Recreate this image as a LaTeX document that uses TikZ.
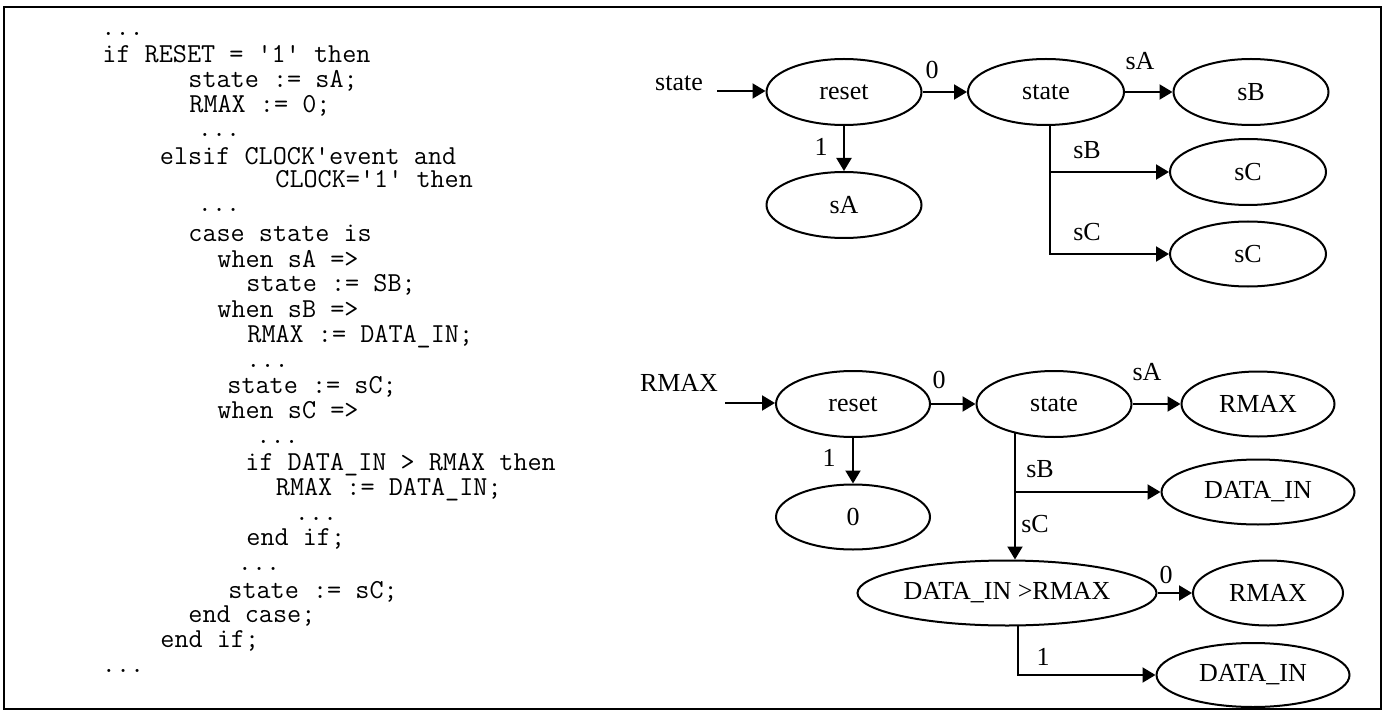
\documentclass[tikz,border=0pt]{standalone}
\usepackage{fontspec}
\setmainfont{Liberation Serif}
\usetikzlibrary{shapes.geometric,arrows.meta}
\newcommand{\q}{\textquotesingle}
\tikzset{
  st/.style={draw, ellipse, line width=1pt, inner sep=0pt, font=\fontsize{13}{15}\selectfont},
  lbl/.style={inner sep=0pt, font=\fontsize{13}{15}\selectfont},
  arr/.style={line width=1pt, -{Triangle[length=6.5pt,width=7.5pt]}},
  cd/.style={anchor=base west, inner sep=0pt, font=\ttfamily\fontsize{13.7}{15}\selectfont}
}
\begin{document}
\begin{tikzpicture}[x=0.5pt,y=-0.5pt]
\useasboundingbox (0,0) rectangle (1391,711);
\draw[line width=1pt] (4,7) rectangle (1381,709);
% code
\node[cd] (c1) at (101,36) {...};
\node[cd] (c2) at (102,63) {if RESET = \q 1\q\ then};
\node[cd] (c3) at (188,88) {state := sA;};
\node[cd] (c4) at (189,113) {RMAX := 0;};
\node[cd] (c5) at (197.5,137) {...};
\node[cd] (c6) at (159.5,165) {elsif CLOCK\q event and};
\node[cd] (c7) at (275,188) {CLOCK=\q 1\q\ then};
\node[cd] (c8) at (197.5,212) {...};
\node[cd] (c9) at (188,242) {case state is};
\node[cd] (c10) at (217,267) {when sA =>};
\node[cd] (c11) at (246,292) {state := SB;};
\node[cd] (c12) at (217,317) {when sB =>};
\node[cd] (c13) at (247,342) {RMAX := DATA\_IN;};
\node[cd] (c14) at (246,367) {...};
\node[cd] (c15) at (227,393) {state := sC;};
\node[cd] (c16) at (217,418) {when sC =>};
\node[cd] (c17) at (256,443) {...};
\node[cd] (c18) at (245,470) {if DATA\_IN > RMAX then};
\node[cd] (c19) at (275.5,495) {RMAX := DATA\_IN;};
\node[cd] (c20) at (294.5,520) {...};
\node[cd] (c21) at (246,545) {end if;};
\node[cd] (c22) at (237.5,570) {...};
\node[cd] (c23) at (228,598) {state := sC;};
\node[cd] (c24) at (188,622) {end case;};
\node[cd] (c25) at (160,647) {end if;};
\node[cd] (c26) at (101.5,672) {...};
% top diagram
\node[lbl] (lstate) at (679,83) {state};
\coordinate (in1) at (717,91);
\node[st, minimum width=77.5pt, minimum height=33pt] (reset1) at (844,92) {reset};
\node[st, minimum width=77.5pt, minimum height=33pt] (sA1) at (844,205) {sA};
\node[st, minimum width=78pt, minimum height=33pt] (state1) at (1046,92) {state};
\node[st, minimum width=77.5pt, minimum height=33pt] (sB1) at (1251,92) {sB};
\node[st, minimum width=78pt, minimum height=33pt] (sC1) at (1248,172) {sC};
\node[st, minimum width=78pt, minimum height=32.5pt] (sC2) at (1248,254) {sC};
\draw[arr] (in1) -- (in1 -| reset1.west);
\draw[arr] (reset1.east) -- (state1.west);
\draw[arr] (reset1.south) -- (sA1.north);
\draw[arr] (state1.east) -- (sB1.west);
\draw[arr] ([xshift=2pt]state1.south) |- (sC1.west);
\draw[arr] ([xshift=2pt]state1.south) |- (sC2.west);
\node[lbl] (l0a) at (932,70) {0};
\node[lbl] (l1a) at (821,147) {1};
\node[lbl] (lsAa) at (1140,61) {sA};
\node[lbl] (lsBa) at (1087,150) {sB};
\node[lbl] (lsCa) at (1087,232) {sC};
% bottom diagram
\node[lbl] (lrmax) at (679,383) {RMAX};
\coordinate (in2) at (725,403);
\node[st, minimum width=77pt, minimum height=33pt] (reset2) at (853,404) {reset};
\node[st, minimum width=77pt, minimum height=32.5pt] (zero) at (853,517) {0};
\node[st, minimum width=77.5pt, minimum height=33pt] (state2) at (1054,404) {state};
\node[st, minimum width=76.5pt, minimum height=32.5pt] (rmaxa) at (1258,404) {RMAX};
\node[st, minimum width=96.5pt, minimum height=32.5pt] (dataa) at (1258,492) {DATA\_IN};
\node[st, minimum width=149.5pt, minimum height=32.5pt] (cmp) at (1007,593) {DATA\_IN >RMAX};
\node[st, minimum width=75pt, minimum height=32.5pt] (rmaxb) at (1268,593) {RMAX};
\node[st, minimum width=96.5pt, minimum height=32pt] (datab) at (1253,675) {DATA\_IN};
\coordinate (v2) at (1015,432);
\coordinate (v3) at (1018,626);
\draw[arr] (in2) -- (in2 -| reset2.west);
\draw[arr] (reset2.east) -- (state2.west);
\draw[arr] (reset2.south) -- (zero.north);
\draw[arr] (state2.east) -- (rmaxa.west);
\draw[arr] (v2) |- (dataa.west);
\draw[arr] (v2) -- (v2 |- cmp.north);
\draw[arr] (cmp.east) -- (rmaxb.west);
\draw[arr] (v3) |- (datab.west);
\node[lbl] (l0b) at (939,380) {0};
\node[lbl] (l1b) at (829,458) {1};
\node[lbl] (lsAb) at (1147,372) {sA};
\node[lbl] (lsBb) at (1040,469) {sB};
\node[lbl] (lsCb) at (1035,524) {sC};
\node[lbl] (l0c) at (1166,575) {0};
\node[lbl] (l1c) at (1043,657) {1};
\end{tikzpicture}
\end{document}
